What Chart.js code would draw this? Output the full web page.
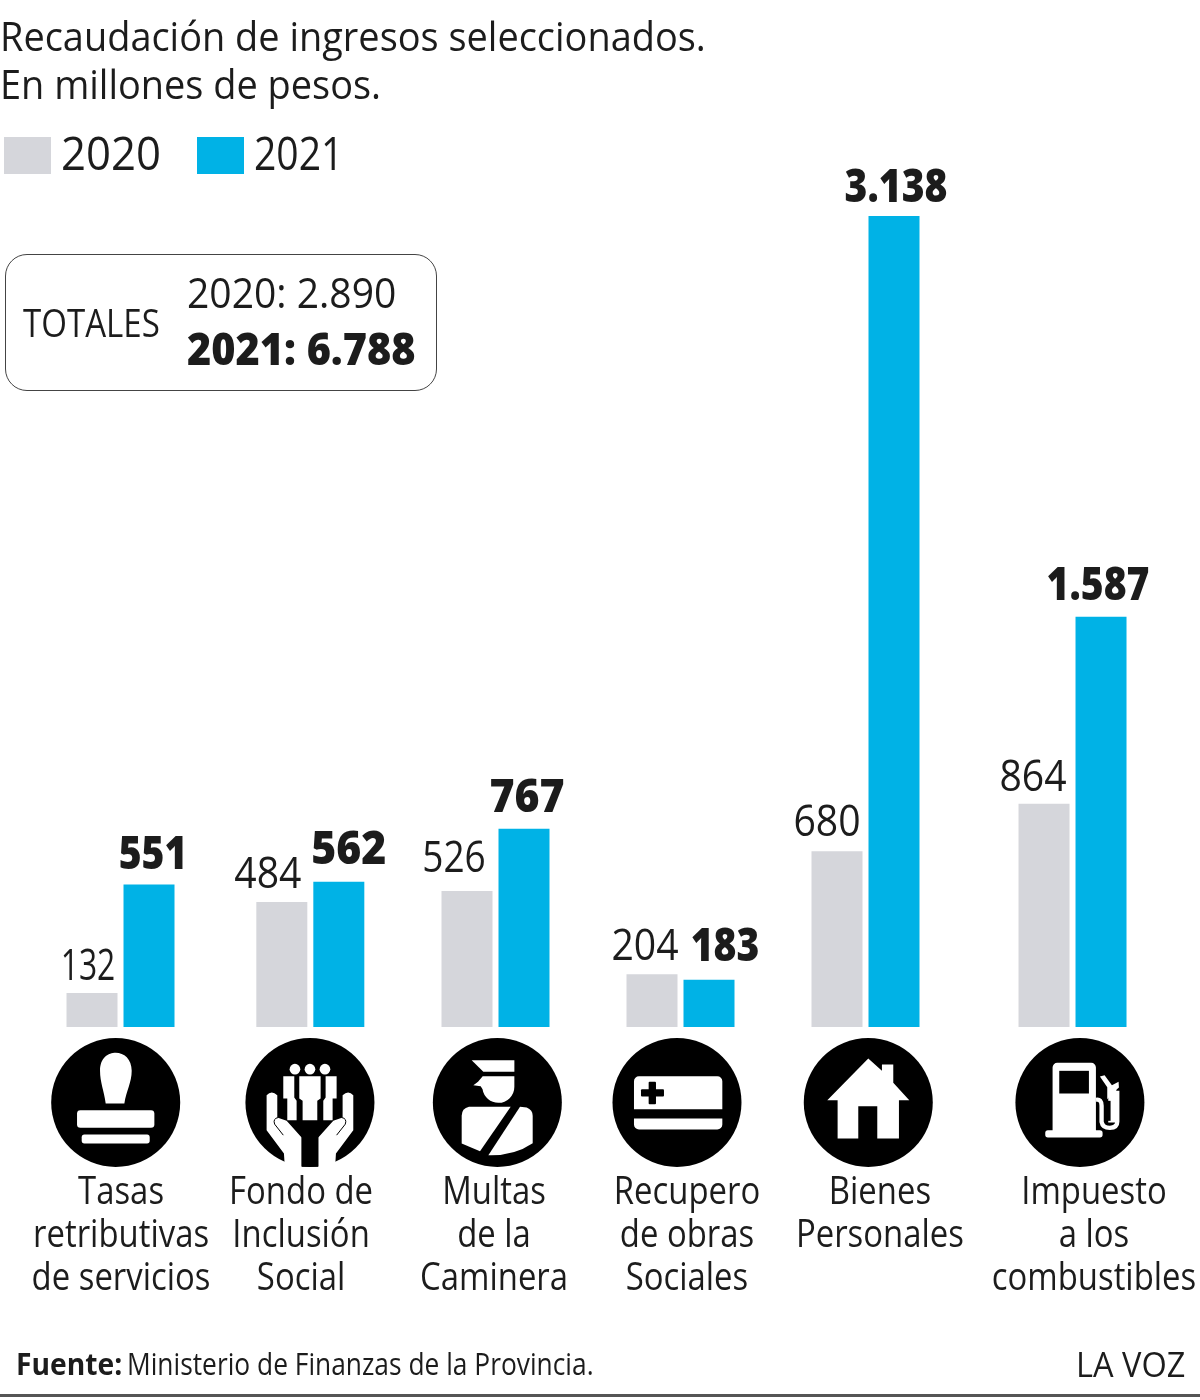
<!DOCTYPE html>
<html lang="es">
<head>
<meta charset="utf-8">
<title>Recaudación de ingresos seleccionados</title>
<script src="https://cdn.jsdelivr.net/npm/chart.js@4"></script>
<style>
  html, body { margin: 0; padding: 0; background: #fff; }
  #page { position: relative; width: 1200px; height: 1400px; overflow: hidden; color: #1c1c1c; font-family: "Open Sans", sans-serif; }
  #chart { position: absolute; left: 0; top: 0; }
  .t { position: absolute; white-space: nowrap; line-height: 1; transform-origin: left top; }
  .swatch { position: absolute; top: 137px; width: 47px; height: 37px; }
  #box { position: absolute; left: 5px; top: 254px; width: 430px; height: 135px; border: 1.5px solid #444; border-radius: 22px; }
  #rule { position: absolute; left: 0; top: 1394px; width: 1200px; height: 3px; background: #555; }
</style>
</head>
<body>
<div id="page">
  <canvas id="chart" width="1200" height="1400"></canvas>
  <div class="t" style="left:0;top:16px;font-size:40px;transform:scaleX(.948)">Recaudación de ingresos seleccionados.</div>
  <div class="t" style="left:0;top:64px;font-size:40px;transform:scaleX(.948)">En millones de pesos.</div>
  <div class="swatch" style="left:4px;background:#d5d6db"></div>
  <div class="t" style="left:61px;top:129px;font-size:46px;transform:scaleX(.95)">2020</div>
  <div class="swatch" style="left:197px;background:#00b2e6"></div>
  <div class="t" style="left:254px;top:129px;font-size:46px;transform:scaleX(.85)">2021</div>
  <div id="box"></div>
  <div class="t" style="left:23px;top:303px;font-size:38px;transform:scaleX(.87)">TOTALES</div>
  <div class="t" style="left:187px;top:271px;font-size:42px;transform:scaleX(.93)">2020: 2.890</div>
  <div class="t" style="left:187px;top:326px;font-size:44px;font-weight:800;transform:scaleX(.94)">2021: 6.788</div>
  <div class="t" style="left:16px;top:1348px;font-size:31px;font-weight:700;transform:scaleX(.91)">Fuente:</div>
  <div class="t" style="left:127px;top:1348px;font-size:31px;transform:scaleX(.85)">Ministerio de Finanzas de la Provincia.</div>
  <div class="t" style="left:1076px;top:1346px;font-size:35px;transform:scaleX(.93)">LA VOZ</div>
  <div id="rule"></div>
</div>
<script>
var categories = [
    ["Tasas", "retributivas", "de servicios"],
    ["Fondo de", "Inclusión", "Social"],
    ["Multas", "de la", "Caminera"],
    ["Recupero", "de obras", "Sociales"],
    ["Bienes", "Personales"],
    ["Impuesto", "a los", "combustibles"]
];
var seriesNames = ["2020", "2021"];
var values2020 = [132, 484, 526, 204, 680, 864];
var values2021 = [551, 562, 767, 183, 3138, 1587];

// groups are not evenly spaced, so x is a linear scale in group units
var groupSlots = [0, 1.026, 2.027, 3.027, 4.027, 5.146];
var labelSlots = [0.003, 0.976, 2.019, 3.062, 4.105, 5.262];
var iconSlots = [-0.026, 1.024, 2.037, 3.008, 4.042, 5.186];
var xMin = -0.6514, xMax = 5.8351, yMax = 3973.7;

// [dx, dy] from the top centre of each bar to its value label
var nudge2020 = [[-4, -13], [-14, -14], [-13, -19], [-7, -14], [-10, -15], [-11, -13]];
var nudge2021 = [[4, -16], [10, -18], [3, -17], [16, -19], [2, -14], [-3, -17]];
// horizontal squeeze of each value label
var squeeze2020 = [0.74, 0.91, 0.86, 0.91, 0.91, 0.91];
var squeeze2021 = [0.85, 0.93, 0.93, 0.85, 0.85, 0.85];

function thousands(v) {
    return String(v).replace(/\B(?=(\d{3})+$)/g, ".");
}

function toPoints(values) {
    return values.map(function (v, i) { return { x: groupSlots[i], y: v }; });
}

function rr(ctx, x, y, w, h, r) {
    ctx.beginPath();
    ctx.roundRect(x, y, w, h, r);
    ctx.fill();
}

function poly(ctx, pts) {
    ctx.beginPath();
    for (var i = 0; i < pts.length; i++) {
        if (i == 0) ctx.moveTo(pts[i][0], pts[i][1]);
        else ctx.lineTo(pts[i][0], pts[i][1]);
    }
    ctx.closePath();
    ctx.fill();
}

// icon artwork, all on a 3 units per pixel grid with the circle centre at 0,0
var icons = [
    function stamp(c) {
        c.beginPath();
        c.moveTo(-30, 3);
        c.bezierCurveTo(-35, -35, -47, -60, -47, -95);
        c.bezierCurveTo(-47, -135, -22, -149, 0, -149);
        c.bezierCurveTo(25, -149, 48, -130, 48, -95);
        c.bezierCurveTo(48, -60, 32, -35, 26, 3);
        c.closePath();
        c.fill();
        rr(c, -116, 23, 232, 53, 10);
        rr(c, -102, 96, 204, 27, 8);
    },
    function hands(c) {
        [-1, 1].forEach(function (s) {
            c.save();
            c.scale(s, 1);
            c.beginPath();
            c.moveTo(-130, -22);
            c.quadraticCurveTo(-115, -38, -98, -22);
            c.lineTo(-98, 45);
            c.lineTo(-70, 55);
            c.lineTo(-25, 105);
            c.lineTo(-25, 200);
            c.lineTo(-75, 200);
            c.lineTo(-78, 153);
            c.lineTo(-130, 83);
            c.closePath();
            c.fill();
            c.strokeStyle = "#000";
            c.lineWidth = 3;
            c.beginPath();
            c.moveTo(-80, 98);
            c.lineTo(-106, 65);
            c.quadraticCurveTo(-112, 48, -95, 45);
            c.stroke();
            // side figure
            c.beginPath();
            c.arc(-45, -100, 16, 0, Math.PI * 2);
            c.fill();
            poly(c, [[-80, -79], [-47, -79], [-47, -15], [-40, -5], [-40, 53], [-68, 53], [-68, -12], [-80, -12]]);
            c.restore();
        });
        c.beginPath();
        c.arc(0, -100, 16, 0, Math.PI * 2);
        c.fill();
        poly(c, [[-32, -79], [32, -79], [32, -12], [22, -5], [22, 53], [-22, 53], [-22, -5], [-32, -12]]);
    },
    function officer(c) {
        poly(c, [[-77, -127], [51, -127], [51, -92], [-42, -92]]);
        c.beginPath();
        c.moveTo(-44, -79);
        c.lineTo(51, -79);
        c.lineTo(51, -50);
        c.arc(3, -47, 48, 0, Math.PI * 0.95);
        c.lineTo(-50, -49);
        c.lineTo(-72, -52);
        c.lineTo(-58, -62);
        c.closePath();
        c.fill();
        c.beginPath();
        c.moveTo(40, 13);
        c.lineTo(-85, 13);
        c.quadraticCurveTo(-107, 18, -107, 40);
        c.lineTo(-107, 123);
        c.lineTo(-52, 146);
        c.closePath();
        c.fill();
        c.beginPath();
        c.moveTo(68, 13);
        c.lineTo(88, 15);
        c.quadraticCurveTo(106, 22, 106, 40);
        c.lineTo(106, 122);
        c.quadraticCurveTo(50, 160, -27, 158);
        c.closePath();
        c.fill();
    },
    function card(c) {
        c.beginPath();
        c.roundRect(-129, -79, 265, 99, [15, 15, 0, 0]);
        c.roundRect(-129, 48, 265, 33, [0, 0, 15, 15]);
        c.fill();
        c.fillStyle = "#000";
        rr(c, -108, -40, 69, 22, 3);
        rr(c, -85, -62, 22, 67, 3);
    },
    function house(c) {
        poly(c, [[0, -132], [41, -95], [41, -114], [75, -114], [75, -59], [123, -7], [92, -7], [92, 108], [27, 108], [27, 11], [-30, 11], [-30, 108], [-92, 108], [-92, -7], [-123, -7]]);
    },
    function pump(c) {
        c.beginPath();
        c.roundRect(-82, -119, 130, 210, [14, 14, 0, 0]);
        c.roundRect(-104, 83, 172, 22, 8);
        c.fill();
        c.fillStyle = "#000";
        c.fillRect(-62, -95, 89, 68);
        c.fillStyle = "#fff";
        c.strokeStyle = "#fff";
        c.lineWidth = 13;
        c.beginPath();
        c.moveTo(48, -8);
        c.quadraticCurveTo(65, -12, 65, 10);
        c.lineTo(65, 58);
        c.quadraticCurveTo(68, 76, 90, 76);
        c.quadraticCurveTo(112, 76, 112, 58);
        c.lineTo(112, -35);
        c.stroke();
        poly(c, [[60, -78], [74, -82], [96, -52], [116, -62], [117, -45], [100, -30], [82, -10], [82, -46]]);
        c.fillRect(85, -40, 24, 100);
        c.fillStyle = "#000";
        c.fillRect(84, -5, 8, 60);
    }
];

// draws the value labels above the bars, pulled from the chart's own elements
var valueLabels = {
    id: "valueLabels",
    afterDatasetsDraw: function (chart) {
        var ctx = chart.ctx;
        chart.data.datasets.forEach(function (ds, d) {
            var nudges = d == 0 ? nudge2020 : nudge2021;
            var squeeze = d == 0 ? squeeze2020 : squeeze2021;
            chart.getDatasetMeta(d).data.forEach(function (bar, i) {
                ctx.save();
                ctx.translate(bar.x + nudges[i][0], bar.y + nudges[i][1]);
                ctx.scale(squeeze[i], 1);
                ctx.font = d == 0 ? '400 43px "Open Sans"' : '800 46px "Open Sans"';
                ctx.fillStyle = "#1c1c1c";
                ctx.textAlign = "center";
                ctx.textBaseline = "alphabetic";
                ctx.fillText(thousands(ds.data[i].y), 0, 0);
                ctx.restore();
            });
        });
    }
};

// category names: the hidden axis places them, the text is squeezed here
var axisNames = {
    id: "axisNames",
    afterDraw: function (chart) {
        var ctx = chart.ctx;
        var axis = chart.scales.names;
        axis.ticks.forEach(function (tick, i) {
            var x = axis.getPixelForTick(i);
            [].concat(tick.label).forEach(function (line, n) {
                ctx.save();
                ctx.translate(x, 1204 + n * 43);
                ctx.scale(0.843, 1);
                ctx.font = '400 39px "Open Sans"';
                ctx.fillStyle = "#1c1c1c";
                ctx.textAlign = "center";
                ctx.textBaseline = "alphabetic";
                ctx.fillText(line, 0, 0);
                ctx.restore();
            });
        });
    }
};

var iconRow = {
    id: "iconRow",
    afterDraw: function (chart) {
        var ctx = chart.ctx;
        iconSlots.forEach(function (slot, i) {
            var cx = chart.scales.x.getPixelForValue(slot);
            ctx.save();
            ctx.translate(cx, 1102.5);
            ctx.fillStyle = "#000";
            ctx.beginPath();
            ctx.arc(0, 0, 64.5, 0, Math.PI * 2);
            ctx.fill();
            ctx.scale(1 / 3, 1 / 3);
            ctx.fillStyle = "#fff";
            icons[i](ctx);
            if (i == 1) {
                // stem of the hands runs right to the circle's edge
                ctx.fillStyle = "#000";
                ctx.fillRect(-25, 100, 50, 93);
            }
            ctx.restore();
        });
    }
};

function slotTicks(slots) {
    return function (axis) {
        axis.ticks = slots.map(function (v) { return { value: v }; });
    };
}

function xAxisBase(slots) {
    return {
        type: "linear",
        axis: "x",
        display: false,
        offset: false,
        bounds: "data",
        min: xMin,
        max: xMax,
        grid: { display: false },
        afterBuildTicks: slotTicks(slots)
    };
}

var namesAxis = xAxisBase(labelSlots);
namesAxis.ticks = {
    autoSkip: false,
    callback: function (value, index) { return categories[index]; }
};

var ctx = document.getElementById("chart").getContext("2d");
var myChart = new Chart(ctx, {
    type: "bar",
    data: {
        datasets: [
            { label: seriesNames[0], data: toPoints(values2020), backgroundColor: "#d5d6db" },
            { label: seriesNames[1], data: toPoints(values2021), backgroundColor: "#00b2e6" }
        ]
    },
    options: {
        responsive: false,
        animation: false,
        layout: { padding: { bottom: 373 } },
        categoryPercentage: 114 / 185,
        barPercentage: 51 / 57,
        plugins: { legend: { display: false }, tooltip: { enabled: false } },
        scales: {
            x: xAxisBase(groupSlots),
            names: namesAxis,
            y: {
                display: false,
                min: 0,
                max: yMax,
                grid: { display: false }
            }
        }
    },
    plugins: [valueLabels, axisNames, iconRow]
});
</script>
</body>
</html>
